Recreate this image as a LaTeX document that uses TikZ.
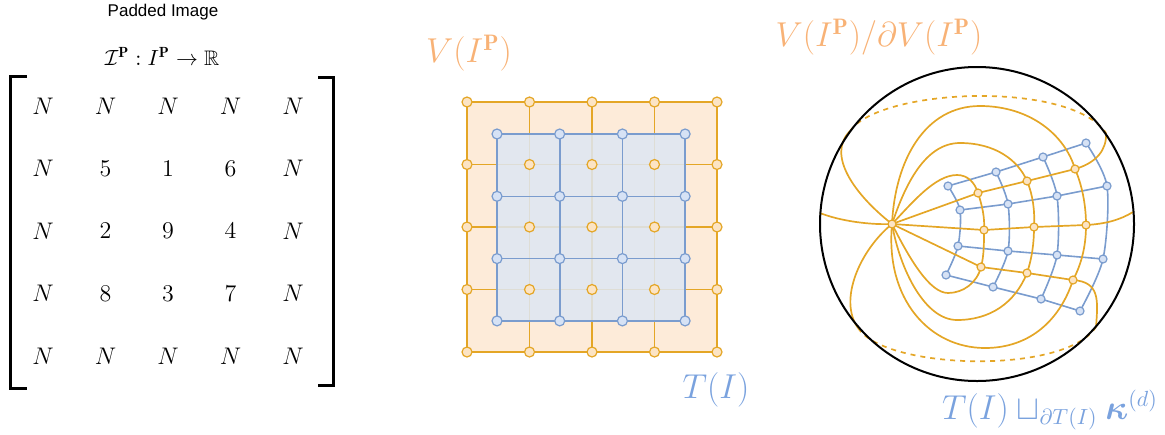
\documentclass[tikz,border=0pt]{standalone}
\usepackage{amsmath}
\usepackage{amssymb}
\usepackage{fontspec}
\newfontfamily\captionsans{Liberation Sans}
\usepackage{tikz}

\definecolor{gridorange}{RGB}{228,166,38}
\definecolor{nodeorange}{RGB}{252,228,196}
\definecolor{fillorange}{RGB}{253,235,217}
\definecolor{textorange}{RGB}{248,178,118}
\definecolor{gridblue}{RGB}{122,156,206}
\definecolor{nodeblue}{RGB}{214,226,245}
\definecolor{fillblue}{RGB}{222,231,244}
\definecolor{textblue}{RGB}{122,162,222}

\pgfdeclarelayer{back}
\pgfdeclarelayer{mid}
\pgfsetlayers{back,mid,main}

\begin{document}
\begin{tikzpicture}[x=0.5pt, y=-0.5pt,
        onode/.style={circle, draw=gridorange, fill=nodeorange, line width=0.6pt, inner sep=0pt, minimum size=5pt},
        bnode/.style={circle, draw=gridblue, fill=nodeblue, line width=0.6pt, inner sep=0pt, minimum size=5pt},
        osmall/.style={onode, minimum size=4pt},
        bsmall/.style={bnode, minimum size=4pt},
        oline/.style={draw=gridorange, line width=0.85pt},
        bline/.style={draw=gridblue, line width=0.8pt},
        entry/.style={font=\fontsize{12.5}{15}\selectfont},
        olab/.style={text=textorange, font=\fontsize{16}{19}\selectfont},
        blab/.style={text=textblue, font=\fontsize{16}{19}\selectfont}]
                \useasboundingbox (0,0) rectangle (1165,434);

                % padded image
                \node[font=\captionsans\fontsize{8.5}{10}\selectfont] (title) at (163,12) {Padded Image};
                \node[font=\fontsize{10.5}{12}\selectfont] (map) at (162,56) {$\mathcal{I}^{\mathbf{P}}:I^{\mathbf{P}}\to\mathbb{R}$};
                \foreach \row [count=\r] in {{N,N,N,N,N},{N,5,1,6,N},{N,2,9,4,N},{N,8,3,7,N},{N,N,N,N,N}}
                    \foreach \v [count=\c] in \row
                        \node[entry] (m-\r-\c) at ({43+62.5*(\c-1)},{106+62.5*(\r-1)}) {$\v$};
                \draw[line width=1.5pt] (27,76) -- (10,76) -- (10,388) -- (27,388);
                \draw[line width=1.5pt] (318,77) -- (333,77) -- (333,385) -- (318,385);

                % padded grid and its cubical grid
                \foreach \i in {0,...,4}
                    \foreach \j in {0,...,4}
                        \node[onode] (o-\i-\j) at ({467+62.5*\j},{102+62.5*\i}) {};
                \foreach \i in {0,...,3}
                    \foreach \j in {0,...,3}
                        \node[bnode] (b-\i-\j) at ({497+62.7*\j},{134+62.3*\i}) {};
                \begin{pgfonlayer}{back}
                    \fill[fillorange] (o-0-0.center) rectangle (o-4-4.center);
                    \foreach \k in {0,...,4} {
                        \draw[oline] (o-\k-0.center) -- (o-\k-4.center);
                        \draw[oline] (o-0-\k.center) -- (o-4-\k.center);
                    }
                \end{pgfonlayer}
                \begin{pgfonlayer}{mid}
                    \fill[fillblue, opacity=0.85] (b-0-0.center) rectangle (b-3-3.center);
                    \foreach \k in {0,...,3} {
                        \draw[bline] (b-\k-0.center) -- (b-\k-3.center);
                        \draw[bline] (b-0-\k.center) -- (b-3-\k.center);
                    }
                \end{pgfonlayer}
                \node[olab] (vlab) at (469,53) {$V(I^{\mathbf{P}})$};
                \node[blab] (tlab) at (716,390) {$T(I)$};

                % quotient sphere
                \draw[line width=1pt] (977,224) circle[radius=157];
                \node[osmall] (pole) at (892,224) {};
                \node[osmall] (q-1-1) at (978,193) {};
                \node[osmall] (q-1-2) at (1027,181) {};
                \node[osmall] (q-1-3) at (1075,169) {};
                \node[osmall] (q-2-1) at (984,230) {};
                \node[osmall] (q-2-2) at (1034,227) {};
                \node[osmall] (q-2-3) at (1086,225) {};
                \node[osmall] (q-3-1) at (981,267) {};
                \node[osmall] (q-3-2) at (1027,273) {};
                \node[osmall] (q-3-3) at (1073,280) {};

                \node[bsmall] (c-1-1) at (948,186) {};
                \node[bsmall] (c-1-2) at (996,172) {};
                \node[bsmall] (c-1-3) at (1043,157) {};
                \node[bsmall] (c-1-4) at (1086,143) {};
                \node[bsmall] (c-2-1) at (960,210) {};
                \node[bsmall] (c-2-2) at (1008,204) {};
                \node[bsmall] (c-2-3) at (1057,196) {};
                \node[bsmall] (c-2-4) at (1107,186) {};
                \node[bsmall] (c-3-1) at (958,246) {};
                \node[bsmall] (c-3-2) at (1008,251) {};
                \node[bsmall] (c-3-3) at (1057,255) {};
                \node[bsmall] (c-3-4) at (1103,259) {};
                \node[bsmall] (c-4-1) at (946,275) {};
                \node[bsmall] (c-4-2) at (993,287) {};
                \node[bsmall] (c-4-3) at (1041,299) {};
                \node[bsmall] (c-4-4) at (1080,311) {};

                \coordinate (tl) at (850,131);
                \coordinate (tr) at (1106,133);
                \coordinate (bl) at (858,328);
                \coordinate (br) at (1096,327);
                \coordinate (lt) at (820,213);
                \coordinate (rt) at (1133,212);

                \begin{pgfonlayer}{mid}
                    \foreach \r in {1,...,4}
                        \draw[bline] (c-\r-1.center) -- (c-\r-2.center) -- (c-\r-3.center) -- (c-\r-4.center);
                    \foreach \k in {1,...,4}
                        \draw[bline] plot[smooth] coordinates {(c-1-\k.center) (c-2-\k.center) (c-3-\k.center) (c-4-\k.center)};

                    % rays out of the pole
                    \draw[oline] (pole.center) -- (q-1-1.center) -- (q-1-2.center) -- (q-1-3.center)
                        .. controls (1096,163) and (1107,150) .. (tr);
                    \draw[oline] (pole.center) -- (q-2-1.center) -- (q-2-2.center) -- (q-2-3.center)
                        .. controls (1105,224) and (1120,220) .. (rt);
                    \draw[oline] (pole.center) -- (q-3-1.center) -- (q-3-2.center) -- (q-3-3.center)
                        .. controls (1100,282) and (1098,300) .. (br);
                    \draw[oline] (pole.center) .. controls (870,225) and (840,221) .. (lt);
                    \draw[oline] (pole.center) .. controls (855,195) and (826,155) .. (tl);
                    \draw[oline] (pole.center) .. controls (860,250) and (838,300) .. (bl);

                    % loops through the pole
                    \draw[oline] (pole.center) .. controls (912,203) and (935,175) .. (957,175)
                        .. controls (968,175) and (975,183) .. (q-1-1.center)
                        .. controls (982,205) and (985,218) .. (q-2-1.center)
                        .. controls (984,243) and (984,256) .. (q-3-1.center)
                        .. controls (977,283) and (963,293) .. (948,293)
                        .. controls (930,293) and (910,260) .. (pole.center);
                    \draw[oline] (pole.center) .. controls (905,185) and (925,143) .. (960,143)
                        .. controls (995,143) and (1018,160) .. (q-1-2.center)
                        .. controls (1033,195) and (1035,212) .. (q-2-2.center)
                        .. controls (1034,243) and (1032,258) .. (q-3-2.center)
                        .. controls (1015,303) and (990,320) .. (957,320)
                        .. controls (925,320) and (900,270) .. (pole.center);
                    \draw[oline] (pole.center) .. controls (895,160) and (925,106) .. (980,106)
                        .. controls (1030,106) and (1065,135) .. (q-1-3.center)
                        .. controls (1082,185) and (1086,205) .. (q-2-3.center)
                        .. controls (1086,245) and (1082,263) .. (q-3-3.center)
                        .. controls (1060,320) and (1030,348) .. (985,348)
                        .. controls (930,348) and (885,300) .. (pole.center);

                    % boundary
                    \draw[oline, dash pattern=on 2.5pt off 2.5pt] (tl) .. controls (880,88) and (1070,80) .. (tr);
                    \draw[oline, dash pattern=on 2.5pt off 2.5pt] (bl) .. controls (885,370) and (1065,375) .. (br);
                \end{pgfonlayer}

                \node[olab] (qlab) at (879,37) {$V(I^{\mathbf{P}})/\partial V(I^{\mathbf{P}})$};
                \node[blab] (glab) at (1050,410) {$T(I)\sqcup_{\partial T(I)}\boldsymbol{\kappa}^{(d)}$};
            \end{tikzpicture}
\end{document}
